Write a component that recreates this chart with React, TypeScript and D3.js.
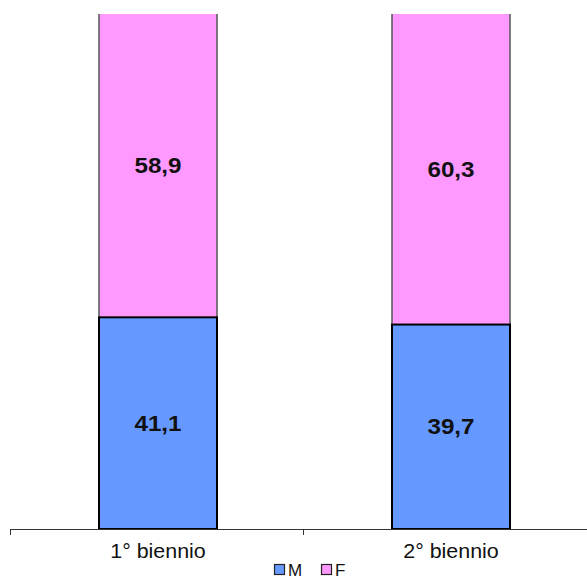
import React from "react";
import * as d3 from "d3";

const categories = ["1° biennio", "2° biennio"];
const seriesNames = ["M", "F"];
const valuesM = [41.1, 39.7];
const valuesF = [58.9, 60.3];
const labelsM = ["41,1", "39,7"];
const labelsF = ["58,9", "60,3"];
const colors = ["#6699FF", "#FF99FF"];
const strokes = ["#000000", "#555555"];

export default function App() {
  const W = 587, H = 580;
  const x = d3.scaleBand<string>().domain(categories).range([10, 596]).paddingInner(0).paddingOuter(0);
  const y = d3.scaleLinear().domain([0, 100]).range([529, 14]);
  const barW = 118;
  const font = "'Liberation Sans', Arial, sans-serif";
  const stack = categories.map((c, i) => [
    { y0: 0, y1: valuesM[i], label: labelsM[i] },
    { y0: valuesM[i], y1: valuesM[i] + valuesF[i], label: labelsF[i] },
  ]);
  const sx = 1.1;
  return (
    <svg width={W} height={H} style={{ position: "absolute", left: 0, top: 0, background: "#fff" }}>
      {categories.map((c, i) => {
        const cx = (x(c) as number) + x.bandwidth() / 2 + 1.5;
        const left = cx - barW / 2;
        return (
          <g key={c}>
            {(() => {
              const s = stack[i][1];
              const top = y(s.y1), bot = y(s.y0);
              return (
                <g>
                  <rect x={left} y={top} width={barW} height={bot - top} fill={colors[1]} />
                  <line x1={left} x2={left} y1={top} y2={bot} stroke={strokes[1]} strokeWidth={1.5} />
                  <line x1={left + barW} x2={left + barW} y1={top} y2={bot} stroke={strokes[1]} strokeWidth={1.5} />
                </g>
              );
            })()}
            {(() => {
              const s = stack[i][0];
              const top = y(s.y1), bot = y(s.y0);
              return (
                <rect x={left} y={top} width={barW} height={bot - top}
                  fill={colors[0]} stroke={strokes[0]} strokeWidth={2} />
              );
            })()}
            {stack[i].map((s, j) => {
              const top = y(s.y1), bot = y(s.y0);
              return (
                <text key={j} transform={`translate(${cx},${(top + bot) / 2}) scale(${sx},1)`}
                  textAnchor="middle" dominantBaseline="central"
                  fontFamily={font} fontWeight="bold" fontSize={22} fill="#111">{s.label}</text>
              );
            })}
            <text transform={`translate(${cx},${551}) scale(${sx},1)`} textAnchor="middle" dominantBaseline="central"
              fontFamily={font} fontSize={19.5} fill="#111">{c}</text>
          </g>
        );
      })}
      <line x1={10} x2={W} y1={529.5} y2={529.5} stroke="#333" strokeWidth={1} />
      {[0, 1].map((i) => {
        const tx = Math.round(x(categories[i]) as number) + 0.5;
        return <line key={i} x1={tx} x2={tx} y1={529} y2={535} stroke="#333" strokeWidth={1} />;
      })}
      {seriesNames.map((n, i) => {
        const lx = [274, 321][i];
        return (
          <g key={n}>
            <rect x={lx + 0.5} y={564.5} width={10} height={10} fill={colors[i]} stroke="#222" strokeWidth={1.2} />
            <text x={lx + 14} y={576} fontFamily={font} fontSize={17} fill="#111">{n}</text>
          </g>
        );
      })}
    </svg>
  );
}
